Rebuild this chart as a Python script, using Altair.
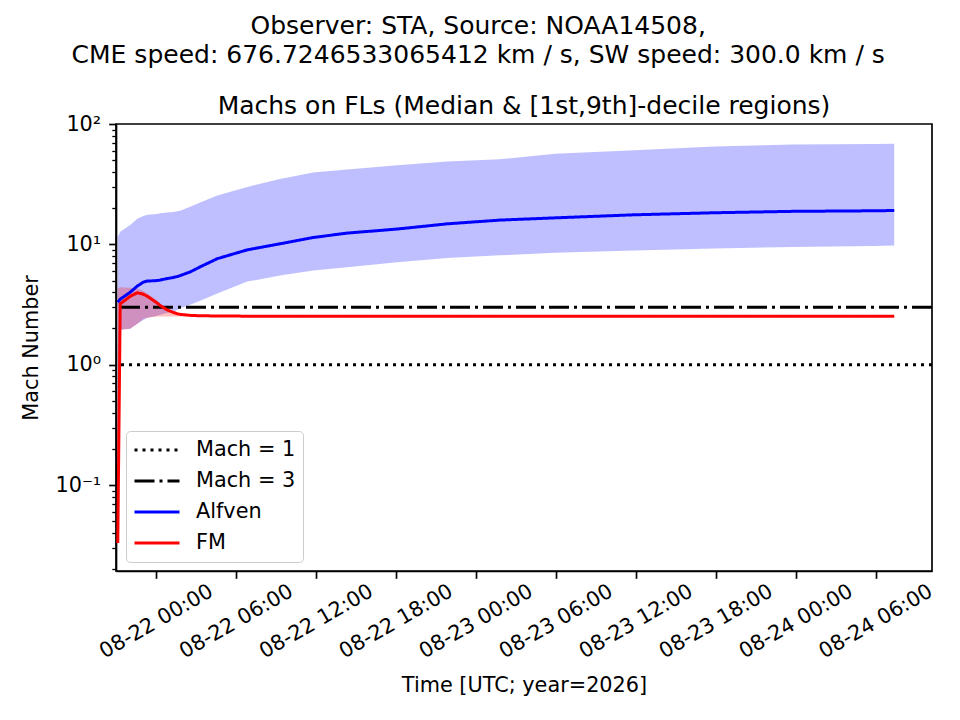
import altair as alt
import pandas as pd

# ---------------- data ----------------
times = [
    "2026-08-21 21:08", "2026-08-21 21:19", "2026-08-21 22:04", "2026-08-21 22:36",
    "2026-08-21 23:03", "2026-08-21 23:21", "2026-08-22 00:06", "2026-08-22 00:19",
    "2026-08-22 00:51", "2026-08-22 01:18", "2026-08-22 01:36", "2026-08-22 01:49",
    "2026-08-22 02:34", "2026-08-22 03:19", "2026-08-22 04:36", "2026-08-22 06:51",
    "2026-08-22 09:18", "2026-08-22 11:48", "2026-08-22 14:21", "2026-08-22 18:06",
    "2026-08-22 21:51", "2026-08-23 01:48", "2026-08-23 05:57", "2026-08-23 11:54",
    "2026-08-23 17:54", "2026-08-23 23:48", "2026-08-24 05:48", "2026-08-24 07:24",
]
alfven_median = [3.3, 3.5, 4.0, 4.5, 4.85, 4.95, 5.0, 5.05, 5.2, 5.3, 5.4, 5.5, 5.9, 6.5,
                 7.6, 9.0, 10.1, 11.4, 12.4, 13.4, 14.8, 15.9, 16.6, 17.6, 18.3, 18.8, 19.0, 19.1]
alfven_d9 = [11.5, 12.7, 14.5, 16.3, 17.2, 17.6, 17.9, 18.1, 18.4, 18.6, 18.8, 19.0, 20.5, 22.3,
             25.5, 30.0, 34.9, 39.5, 41.8, 45.5, 48.8, 51.0, 56.5, 60.5, 65.0, 67.5, 68.2, 68.5]
alfven_d1 = [0.033, 1.95, 1.99, 2.19, 2.35, 2.45, 2.55, 2.6, 2.7, 2.75, 2.85, 2.95, 3.15, 3.4,
             3.9, 4.9, 5.5, 6.05, 6.45, 7.1, 7.7, 8.1, 8.5, 8.9, 9.25, 9.5, 9.7, 9.8]
fm_median = [0.033, 3.2, 3.7, 3.96, 3.85, 3.7, 3.25, 3.1, 2.85, 2.72, 2.65, 2.62, 2.57, 2.55,
             2.54, 2.53, 2.53, 2.53, 2.53, 2.53, 2.53, 2.53, 2.53, 2.53, 2.53, 2.53, 2.53, 2.53]
fm_d9 = [4.3, 4.4, 4.35, 4.3, 4.1, 3.9, 3.4, 3.2, 2.9, 2.8, 2.7, 2.65, 2.6, 2.57,
         2.56, 2.55, 2.55, 2.55, 2.55, 2.55, 2.55, 2.55, 2.55, 2.55, 2.55, 2.55, 2.55, 2.55]
fm_d1 = [0.033, 1.95, 1.99, 2.19, 2.41, 2.45, 2.52, 2.52, 2.52, 2.52, 2.52, 2.52, 2.52, 2.52,
         2.52, 2.52, 2.52, 2.52, 2.52, 2.52, 2.52, 2.52, 2.52, 2.52, 2.52, 2.52, 2.52, 2.52]

mach_levels = [1, 3]
legend_names = ["Mach = 1", "Mach = 3", "Alfven", "FM"]
legend_colors = ["black", "black", "blue", "red"]
legend_dashes = [[3, 5], [20, 5, 3, 5], [1, 0], [1, 0]]

y_major = [0.1, 1, 10, 100]
y_minor = [0.02, 0.03, 0.04, 0.05, 0.06, 0.07, 0.08, 0.09,
           0.2, 0.3, 0.4, 0.5, 0.6, 0.7, 0.8, 0.9,
           2, 3, 4, 5, 6, 7, 8, 9,
           20, 30, 40, 50, 60, 70, 80, 90]
x_tick_hours = [0, 6, 12, 18, 24, 30, 36, 42, 48, 54]  # after 08-22 00:00

suptitle = ["Observer: STA, Source: NOAA14508,",
            "CME speed: 676.7246533065412 km / s, SW speed: 300.0 km / s"]
subtitle = "Machs on FLs (Median & [1st,9th]-decile regions)"

# ---------------- tables ----------------
t = pd.to_datetime(times)
band_df = pd.DataFrame({"time": t, "a_lo": alfven_d1, "a_hi": alfven_d9,
                        "f_lo": fm_d1, "f_hi": fm_d9})
line_df = pd.concat([
    pd.DataFrame({"time": t, "mach": alfven_median, "series": "Alfven"}),
    pd.DataFrame({"time": t, "mach": fm_median, "series": "FM"}),
], ignore_index=True)
rule_df = pd.DataFrame({"mach": mach_levels, "series": legend_names[:2]})

FONT = "DejaVu Sans"
FS = 20.8

def dt(day, hour, minute=0):
    return alt.DateTime(year=2026, month=8, date=day, hours=hour, minutes=minute)

x_values = [dt(22 + h // 24, h % 24) for h in x_tick_hours]

x_scale = alt.Scale(domain=[dt(21, 21, 0), dt(24, 10, 14)], nice=False)
y_scale = alt.Scale(type="log", domain=[0.0193, 100], nice=False)

x_axis = alt.Axis(values=x_values, format="%m-%d %H:%M", labelAngle=330,
                  labelAlign="center", labelBaseline="middle", labelPadding=43,
                  title="Time [UTC; year=2026]", titlePadding=14, grid=False,
                  labelFontSize=FS, titleFontSize=FS, tickSize=7.3, labelOverlap=False)

y_axis_major = alt.Axis(values=y_major, orient="left", tickCount=len(y_major),
                        labelExpr="datum.value == 100 ? '10²' : datum.value == 10 ? '10¹' : "
                                  "datum.value == 1 ? '10⁰' : '10⁻¹'",
                        tickSize=7.3, tickWidth=1.67,
                        labelPadding=8, title="Mach Number", titlePadding=13, grid=False,
                        labelFontSize=FS, titleFontSize=FS, labelOverlap=False)
y_axis_minor = alt.Axis(values=y_minor, orient="left", tickCount=len(y_minor),
                        labels=False, domain=False, tickColor="black", tickOpacity=1,
                        tickSize=4.2, tickWidth=1.3, title=None, grid=False)

X = alt.X("time:T", scale=x_scale, axis=x_axis)

legend = alt.Legend(title=None, orient="none", legendX=10, legendY=307,
                    symbolType="stroke", symbolSize=2025, symbolStrokeWidth=3,
                    labelFontSize=FS, labelFont=FONT, labelColor="black",
                    clipHeight=24, rowPadding=7, labelOffset=15, padding=7,
                    fillColor="rgba(255,255,255,0.8)", strokeColor="#cccccc",
                    cornerRadius=4)
color = alt.Color("series:N", scale=alt.Scale(domain=legend_names, range=legend_colors),
                  legend=legend)
dash = alt.StrokeDash("series:N", scale=alt.Scale(domain=legend_names, range=legend_dashes),
                      legend=legend)

blue_band = alt.Chart(band_df).mark_area(color="blue", opacity=0.25).encode(
    x=X, y=alt.Y("a_lo:Q", scale=y_scale, axis=y_axis_major), y2="a_hi:Q")
red_band = alt.Chart(band_df).mark_area(color="red", opacity=0.25).encode(
    x=X, y=alt.Y("f_lo:Q", scale=y_scale, axis=None), y2="f_hi:Q")
minor_ticks = alt.Chart(rule_df).mark_rule(opacity=0).encode(
    y=alt.Y("mach:Q", scale=y_scale, axis=y_axis_minor))
rules = alt.Chart(rule_df).mark_rule(strokeWidth=3).encode(
    y=alt.Y("mach:Q", scale=y_scale, axis=None), color=color, strokeDash=dash)
lines = alt.Chart(line_df).mark_line(strokeWidth=3).encode(
    x=X, y=alt.Y("mach:Q", scale=y_scale, axis=None), color=color, strokeDash=dash,
    order=alt.Order("series:N"))

inner = alt.layer(blue_band, red_band, minor_ticks, rules, lines).resolve_scale(
    y="shared").resolve_axis(y="independent").properties(
    width=816, height=447,
    title=alt.TitleParams(subtitle, fontSize=25, fontWeight="normal", anchor="middle",
                          frame="group", offset=-6, color="black", font=FONT),
)

chart = alt.vconcat(inner).properties(
    title=alt.TitleParams(suptitle, fontSize=25, fontWeight="normal", anchor="middle",
                          frame="bounds", offset=25, lineHeight=29, color="black",
                          font=FONT),
    padding={"left": 12, "top": 6, "right": 5, "bottom": 5},
    background="white",
).configure_view(stroke="black", strokeWidth=1.67).configure_axis(
    domainColor="black", domainWidth=1.67, tickColor="black", tickWidth=1.67,
    labelColor="black", titleColor="black", labelFont=FONT, titleFont=FONT,
    titleFontWeight="normal",
).configure_legend(labelFont=FONT)

chart.save("out.html", embed_options={"renderer": "svg", "actions": False})
